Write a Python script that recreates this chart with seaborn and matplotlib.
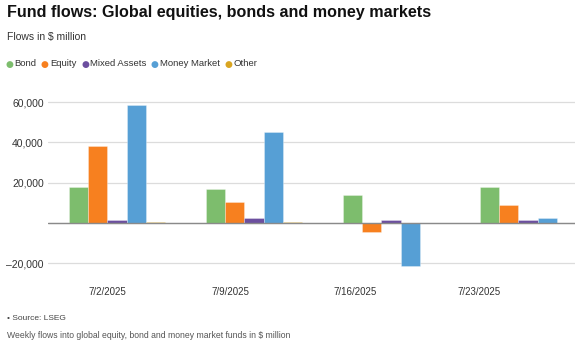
import matplotlib
matplotlib.use("Agg")
import matplotlib.pyplot as plt
from matplotlib.ticker import FuncFormatter
import seaborn as sns
import pandas as pd

# Weekly fund flows, $ million
weeks = ["7/2/2025", "7/9/2025", "7/16/2025", "7/23/2025"]
bond = [17700, 16900, 13700, 17900]
equity = [38400, 10600, -4300, 8800]
mixed_assets = [1300, 2600, 1500, 1500]
money_market = [58700, 45000, -21300, 2300]
other = [500, 500, 0, 0]

series_names = ["Bond", "Equity", "Mixed Assets", "Money Market", "Other"]
series_values = [bond, equity, mixed_assets, money_market, other]
colors = ["#7dbd6d", "#f7801f", "#6c4f9f", "#569fd5", "#d9a521"]

rows = []
for name, vals in zip(series_names, series_values):
    for wk, v in zip(weeks, vals):
        rows.append({"week": wk, "fund": name, "flow": v})
df = pd.DataFrame(rows)

sns.set_theme(style="white")
plt.rcParams["font.family"] = ["Liberation Sans", "DejaVu Sans"]

W, H = 575, 345
fig = plt.figure(figsize=(W / 100, H / 100), dpi=100)
ax = fig.add_axes([48 / W, 1 - 272 / H, 1 - 48 / W, (272 - 92) / H])

sns.barplot(data=df, x="week", y="flow", hue="fund", order=weeks,
            hue_order=series_names, palette=colors, width=0.7,
            saturation=1, edgecolor=(1, 1, 1, 0.35), linewidth=0.6,
            legend=False, ax=ax)

ax.set_xlim(-0.504, 3.343)
ax.set_ylim(-24300, 65000)
ax.set_yticks([-20000, 0, 20000, 40000, 60000])
ax.yaxis.set_major_formatter(FuncFormatter(
    lambda v, p: ("\u2013" if v < 0 else "") + f"{abs(int(v)):,}" if v != 0 else ""))
ax.grid(axis="y", color="#dcdcdc", linewidth=0.9)
ax.axhline(0, color="#8a8a8a", linewidth=1.0, zorder=3)
ax.set_axisbelow(True)
for s in ax.spines.values():
    s.set_visible(False)
ax.set_xlabel("")
ax.set_ylabel("")
ax.tick_params(axis="y", length=0, pad=3, labelsize=7.5, labelcolor="#333333")

# date labels sit on their own evenly spaced slots
label_px = [107, 230, 355, 479]
ax.set_xticks([(p - 117) / 137 for p in label_px])
ax.set_xticklabels(weeks)
ax.tick_params(axis="x", length=0, pad=11, labelsize=7, labelcolor="#333333")

# header
fig.text(7 / W, 1 - 13 / H, "Fund flows: Global equities, bonds and money markets",
         fontsize=11.6, fontweight="bold", color="#111111", va="center", ha="left")
fig.text(7 / W, 1 - 37 / H, "Flows in $ million", fontsize=7.5, color="#333333",
         va="center", ha="left")

# legend row
leg_dot = [9, 44, 85, 154, 228]
leg_txt = [14, 50, 90, 160, 233]
for xd, xt, name, c in zip(leg_dot, leg_txt, series_names, colors):
    fig.text(xd / W, 1 - 64.5 / H, "\u25cf", color=c, fontsize=6.5,
             va="center", ha="center", family="DejaVu Sans")
    fig.text(xt / W, 1 - 64 / H, name, fontsize=6.8, color="#333333",
             va="center", ha="left")

# footer
fig.text(7 / W, 1 - 319 / H, "\u2022 Source: LSEG", fontsize=6, color="#444444",
         va="center", ha="left")
fig.text(7 / W, 1 - 336 / H,
         "Weekly flows into global equity, bond and money market funds in $ million",
         fontsize=6.2, color="#555555", va="center", ha="left")

fig.savefig("out.png", dpi=100)
